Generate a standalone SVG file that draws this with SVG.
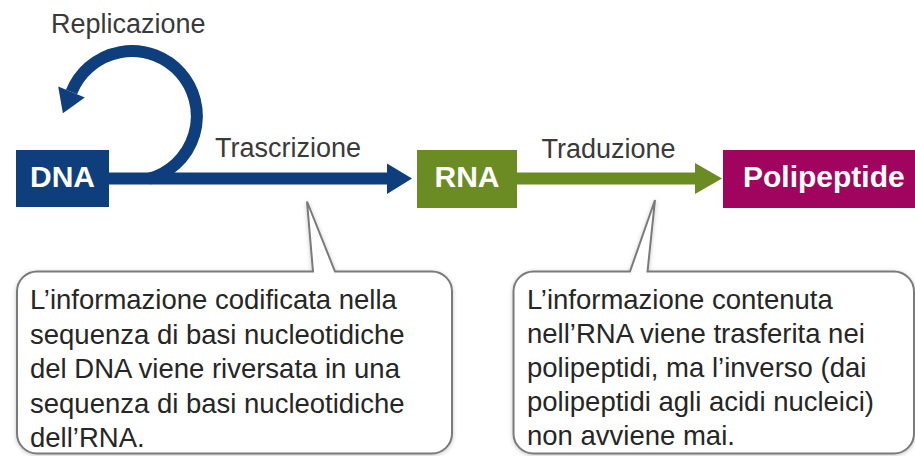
<svg xmlns="http://www.w3.org/2000/svg" width="915" height="456" viewBox="0 0 915 456">
<defs>
<style>
.lbl{font-family:"Liberation Sans",Arial,sans-serif;font-size:27px;fill:#3a3a3a}
.box{font-family:"Liberation Sans",Arial,sans-serif;font-size:30px;font-weight:bold;fill:#ffffff}
.txt{font-family:"Liberation Sans",Arial,sans-serif;font-size:27.5px;fill:#262626}
.callout{fill:#ffffff;stroke:#7a7a7a;stroke-width:2;stroke-linejoin:miter}
</style>
<filter id="sh" x="-5%" y="-10%" width="110%" height="125%">
<feDropShadow dx="0" dy="1" stdDeviation="2" flood-color="#000" flood-opacity="0.22"/>
</filter>
</defs>
<rect width="915" height="456" fill="#ffffff"/>

<g id="connectors">
<path d="M149 178.8 A65 65 0 1 0 71.5 92" fill="none" stroke="#0e3e7b" stroke-width="12"/>
<polygon points="84.8,97.4 58.2,86.6 62.9,113.3" fill="#0e3e7b"/>
<path d="M108 178.5 H389" fill="none" stroke="#0e3e7b" stroke-width="12"/>
<polygon points="387,163.5 412,178.5 387,194" fill="#0e3e7b"/>
<path d="M516 178.5 H697" fill="none" stroke="#6b8c22" stroke-width="12"/>
<polygon points="695,163 722,178.5 695,194" fill="#6b8c22"/>
<text class="lbl" x="51" y="32.5">Replicazione</text>
<text class="lbl" x="215" y="157">Trascrizione</text>
<text class="lbl" x="541.5" y="158">Traduzione</text>
</g>

<g id="dna">
<rect x="16" y="150" width="93" height="57" fill="#0e3e7b"/>
<text class="box" x="62.5" y="187" text-anchor="middle">DNA</text>
</g>
<g id="rna">
<rect x="417" y="150" width="100" height="58" fill="#6b8c22"/>
<text class="box" x="467" y="186.5" text-anchor="middle">RNA</text>
</g>
<g id="polipeptide">
<rect x="723" y="150" width="200" height="58" fill="#a0045e"/>
<text class="box" x="743" y="186.5">Polipeptide</text>
</g>

<g id="callout-trascrizione">
<path class="callout" filter="url(#sh)" d="M37 271.5 H313 L307 201.5 L335 271.5 H432 A20 20 0 0 1 452 291.5 V433.5 A20 20 0 0 1 432 453.5 H37 A20 20 0 0 1 17 433.5 V291.5 A20 20 0 0 1 37 271.5 Z"/>
<text class="txt" x="30" y="309">L’informazione codificata nella</text>
<text class="txt" x="30" y="343.5">sequenza di basi nucleotidiche</text>
<text class="txt" x="30" y="378">del DNA viene riversata in una</text>
<text class="txt" x="30" y="412.5">sequenza di basi nucleotidiche</text>
<text class="txt" x="30" y="447">dell’RNA.</text>
</g>

<g id="callout-traduzione">
<path class="callout" filter="url(#sh)" d="M533.5 271.5 H630 L655 200 L647.5 271.5 H894 A20 20 0 0 1 914 291.5 V433.5 A20 20 0 0 1 894 453.5 H533.5 A20 20 0 0 1 513.5 433.5 V291.5 A20 20 0 0 1 533.5 271.5 Z"/>
<text class="txt" x="527" y="308.5">L’informazione contenuta</text>
<text class="txt" x="527" y="343">nell’RNA viene trasferita nei</text>
<text class="txt" x="527" y="377">polipeptidi, ma l’inverso (dai</text>
<text class="txt" x="527" y="411">polipeptidi agli acidi nucleici)</text>
<text class="txt" x="527" y="445">non avviene mai.</text>
</g>
</svg>
